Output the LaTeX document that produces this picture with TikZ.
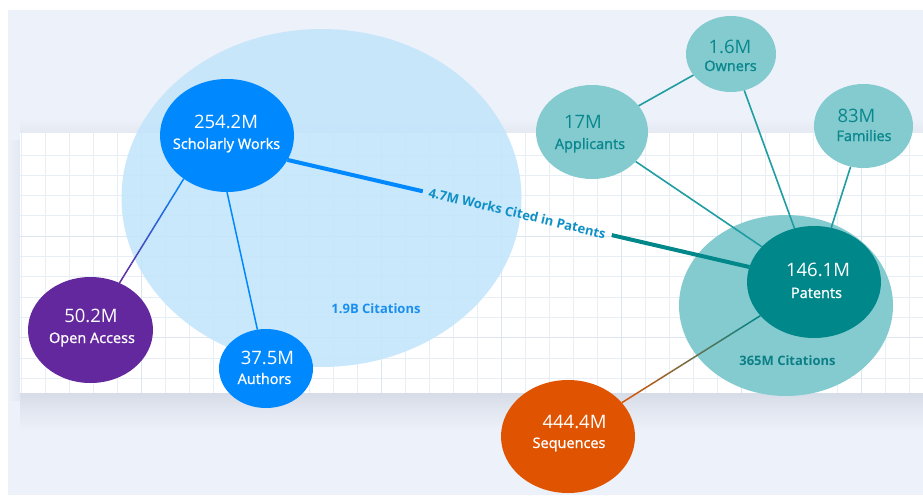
\documentclass[tikz,border=0pt]{standalone}
\usepackage{fontspec}
\setmainfont{Open Sans}
\newfontfamily\labf{Open Sans}[FakeBold=1.2]
\usetikzlibrary{shapes.geometric,calc}
\pgfdeclarelayer{bglayer}
\pgfdeclarelayer{linelayer}
\pgfsetlayers{bglayer,linelayer,main}
\definecolor{bgc}{HTML}{EDF1F9}
\definecolor{gridc}{HTML}{E8EEF6}
\definecolor{gridm}{HTML}{DDE5F0}
\definecolor{citeblue}{HTML}{C2E5FB}
\definecolor{swblue}{HTML}{0088FF}
\definecolor{oapurple}{HTML}{63289D}
\definecolor{tlight}{HTML}{84CBD0}
\definecolor{tdark}{HTML}{00878A}
\definecolor{tline}{HTML}{1F9DA2}
\definecolor{ttext}{HTML}{08878C}
\definecolor{seqorange}{HTML}{E05300}
\definecolor{citetxt}{HTML}{1A8FF0}
\definecolor{citetxtp}{HTML}{0B7F85}
\definecolor{wlabc}{HTML}{0E8FC6}
\definecolor{shadowc}{HTML}{D7DDE8}
\newcommand\gradconn[6]{%
  \path (#1) -- (#2) coordinate[pos=0] (#1-#2-s) coordinate[pos=1] (#1-#2-e);
  \foreach \i in {1,...,#6}{
    \pgfmathsetmacro\pa{(\i-1)/#6}
    \pgfmathsetmacro\pb{\i/#6}
    \pgfmathtruncatemacro\pc{100-100*(\i-0.5)/#6}
    \draw[line width=#5, draw={#3!\pc!#4}] ($(#1-#2-s)!\pa!(#1-#2-e)$) -- ($(#1-#2-s)!\pb!(#1-#2-e)$);
  }%
}
\begin{document}
\begin{tikzpicture}[x=1pt,y=-1pt,
  bubble/.style={ellipse, inner sep=0pt, outer sep=0pt},
  numtxt/.style={anchor=base, inner sep=0pt, font=\fontsize{18.5}{20}\selectfont},
  labtxt/.style={anchor=base, inner sep=0pt, font=\labf\fontsize{14.5}{17}\selectfont},
  cittxt/.style={anchor=base, inner sep=0pt, font=\bfseries\fontsize{13}{15}\selectfont},
  thinline/.style={line width=1.5pt},
  tealline/.style={line width=1.6pt, draw=tline},
]
\useasboundingbox (0,0) rectangle (923,495);
\begin{pgfonlayer}{bglayer}
  \fill[white] (0,0) rectangle (923,495);
  \fill[bgc] (8,10) rectangle (923,495);
  \shade[top color=bgc, bottom color=shadowc!40!bgc] (20,118) rectangle (923,133);
  \shade[top color=shadowc, bottom color=bgc] (20,393) rectangle (923,430);
  \shade[left color=bgc, right color=shadowc!45!bgc] (8,140) rectangle (20,400);
  \fill[white] (20,133) rectangle (923,393);
  \begin{scope}
    \clip (20,133) rectangle (923,393);
    \foreach \x in {21,45,...,923} \draw[gridc, line width=0.9pt] (\x,133) -- (\x,393);
    \foreach \y in {155,175.3,195.6,215.9,256.5,276.8,297.1,317.4,358,378.3} \draw[gridc, line width=0.9pt] (20,\y) -- (923,\y);
    \foreach \x in {141,261,...,923} \draw[gridm, line width=0.9pt] (\x,133) -- (\x,393);
    \foreach \y in {236.2,337.7} \draw[gridm, line width=0.9pt] (20,\y) -- (923,\y);
  \end{scope}
  \node[bubble, fill=citeblue, fill opacity=0.88, minimum width=400pt, minimum height=338pt] (citeS) at (321.5,198) {};
  \node[bubble, fill=tlight, minimum width=214pt, minimum height=181pt] (citeP) at (786,305.5) {};
\end{pgfonlayer}

% bubbles
\node[bubble, fill=swblue, minimum width=134pt, minimum height=113pt] (sw) at (227,135.5) {};
\node[bubble, fill=oapurple, minimum width=125pt, minimum height=106pt] (oa) at (90.5,330) {};
\node[bubble, fill=swblue, minimum width=94pt, minimum height=79pt] (au) at (266,368.5) {};
\node[bubble, fill=tlight, minimum width=90pt, minimum height=76pt] (ow) at (731,54) {};
\node[bubble, fill=tlight, minimum width=112pt, minimum height=94pt] (ap) at (592,132) {};
\node[bubble, fill=tlight, minimum width=99pt, minimum height=84pt] (fa) at (863.5,126) {};
\node[bubble, fill=tdark, minimum width=134pt, minimum height=112pt] (pat) at (814,282) {};
\node[bubble, fill=seqorange, minimum width=134pt, minimum height=113pt] (seq) at (568,436.5) {};

% texts
\node[numtxt, white] (sw-n) at (226,128.5) {254.2M};
\node[labtxt, white] (sw-l) at (226.5,149) {Scholarly Works};
\node[numtxt, white] (oa-n) at (91,322.5) {50.2M};
\node[labtxt, white] (oa-l) at (92,343) {Open Access};
\node[numtxt, white] (au-n) at (267.5,364.5) {37.5M};
\node[labtxt, white] (au-l) at (264.5,384) {Authors};
\node[numtxt, ttext] (ow-n) at (730,53.5) {1.6M};
\node[labtxt, ttext] (ow-l) at (730.5,71) {Owners};
\node[numtxt, ttext] (ap-n) at (583,128.5) {17M};
\node[labtxt, ttext] (ap-l) at (590,149) {Applicants};
\node[numtxt, ttext] (fa-n) at (856.5,122.5) {83M};
\node[labtxt, ttext] (fa-l) at (864,141) {Families};
\node[numtxt, white] (pat-n) at (818,276.5) {146.1M};
\node[labtxt, white] (pat-l) at (816.5,298) {Patents};
\node[numtxt, white] (seq-n) at (574.5,428.5) {444.4M};
\node[labtxt, white] (seq-l) at (569,448) {Sequences};
\node[cittxt, citetxt] (citeS-l) at (376,313.5) {1.9B Citations};
\node[cittxt, citetxtp] (citeP-l) at (787.5,365) {365M Citations};

% connectors
\begin{pgfonlayer}{linelayer}
  \path (sw.225) -- (oa) coordinate[pos=0] (g1s) coordinate[pos=1] (g1e);
  \foreach \i in {1,...,16}{
    \pgfmathsetmacro\pa{(\i-1)/16}
    \pgfmathsetmacro\pb{\i/16}
    \pgfmathtruncatemacro\pc{100-100*(\i-0.5)/16}
    \draw[line width=1.5pt, draw={swblue!\pc!oapurple}] ($(g1s)!\pa!(g1e)$) -- ($(g1s)!\pb!(g1e)$);
  }
  \draw[thinline, swblue] (sw.south) -- (au);
  \gradconn{seq}{pat}{seqorange}{tdark}{1.5pt}{16}
  \draw[tealline] (ap) -- (ow);
  \draw[tealline] (ap) -- (pat);
  \draw[tealline] (ow) -- (pat);
  \draw[tealline] (fa) -- (pat);
  \path (sw.-22) -- (pat) coordinate[pos=0] (ts) coordinate[pos=1] (te);
  \draw[line width=4pt, swblue] (ts) -- ($(ts)!0.293!(te)$);
  \draw[line width=4pt, tdark] ($(ts)!0.702!(te)$) -- (te);
\end{pgfonlayer}
\node[rotate=-13.3, inner sep=0pt, text=wlabc, font=\bfseries\fontsize{13}{15}\selectfont] (wlab) at ($(ts)!0.4975!(te)$)
  {4.7M Works Cited in Patents};
\end{tikzpicture}
\end{document}
